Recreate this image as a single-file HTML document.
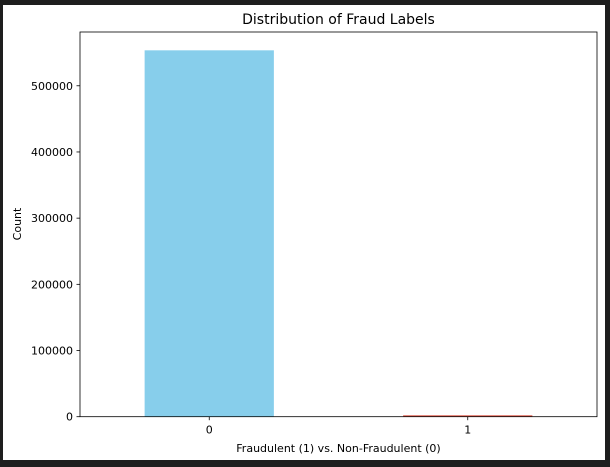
<!DOCTYPE html>
<html><head><meta charset="utf-8">
<style>
html,body{margin:0;padding:0;background:#1e1e1e;width:610px;height:467px;overflow:hidden}
svg{display:block;font-family:"DejaVu Sans","Liberation Sans",sans-serif}
</style></head>
<body>
<svg id="chart" width="610" height="467">
<rect x="3" y="5" width="602" height="455" fill="#ffffff"/>
<text x="338.5" y="24" font-size="14" text-anchor="middle" fill="#000">Distribution of Fraud Labels</text>
<g id="bars"></g>
<g id="yticks"></g>
<g id="xticks"></g>
<rect x="80" y="32" width="517" height="384.7" fill="none" stroke="#000" stroke-width="0.8"/>
<text x="338.5" y="452" font-size="11" text-anchor="middle">Fraudulent (1) vs. Non-Fraudulent (0)</text>
<text transform="translate(21,224) rotate(-90)" font-size="11" text-anchor="middle">Count</text>
</svg>
<script>
const categories = ["0", "1"];
const counts = [553574, 2145];
const colors = ["#87ceeb", "#e06050"];
const yTicks = [0, 100000, 200000, 300000, 400000, 500000];

const NS = "http://www.w3.org/2000/svg";
const plotLeft = 80, plotRight = 597, plotTop = 32, plotBottom = 416.7;
const yMax = 581253;
const unit = (plotRight - plotLeft) / categories.length;
function xPos(i){ return plotLeft + (i + 0.5) * unit; }
function yScale(v){ return plotBottom - v / yMax * (plotBottom - plotTop); }

const bars = document.getElementById("bars");
const xt = document.getElementById("xticks");
categories.forEach((c, i) => {
  const r = document.createElementNS(NS, "rect");
  const y = yScale(counts[i]);
  r.setAttribute("x", xPos(i) - unit * 0.25);
  r.setAttribute("width", unit * 0.5);
  r.setAttribute("y", y);
  r.setAttribute("height", plotBottom - y);
  r.setAttribute("fill", colors[i]);
  
  
  bars.appendChild(r);

  const l = document.createElementNS(NS, "line");
  l.setAttribute("x1", xPos(i)); l.setAttribute("x2", xPos(i));
  l.setAttribute("y1", plotBottom); l.setAttribute("y2", plotBottom + 3.5);
  l.setAttribute("stroke", "#000"); l.setAttribute("stroke-width", "0.8");
  
  
  xt.appendChild(l);
  const t = document.createElementNS(NS, "text");
  t.setAttribute("x", xPos(i)); t.setAttribute("y", plotBottom + 17);
  t.setAttribute("font-size", "11"); t.setAttribute("text-anchor", "middle");
  t.textContent = c;
  
  
  xt.appendChild(t);
});

const yt = document.getElementById("yticks");
yTicks.forEach(v => {
  const y = yScale(v);
  const l = document.createElementNS(NS, "line");
  l.setAttribute("x1", plotLeft - 3.5); l.setAttribute("x2", plotLeft);
  l.setAttribute("y1", y); l.setAttribute("y2", y);
  l.setAttribute("stroke", "#000"); l.setAttribute("stroke-width", "0.8");
  
  
  yt.appendChild(l);
  const t = document.createElementNS(NS, "text");
  t.setAttribute("x", plotLeft - 7); t.setAttribute("y", y + 4);
  t.setAttribute("font-size", "11"); t.setAttribute("text-anchor", "end");
  t.textContent = v;
  
  
  yt.appendChild(t);
});
</script>
</body></html>
